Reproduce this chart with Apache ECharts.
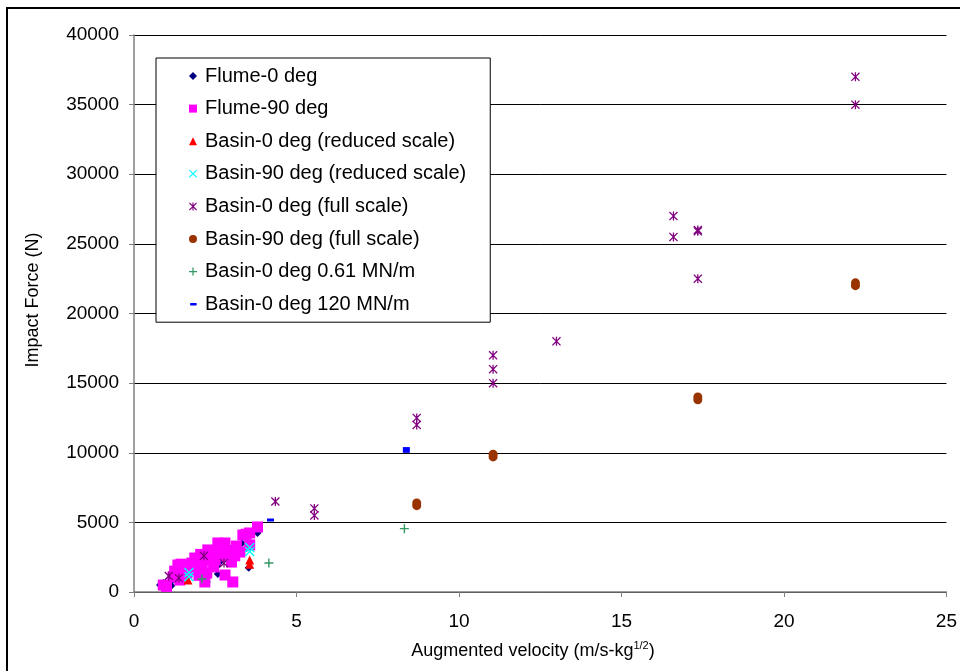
<!DOCTYPE html>
<html>
<head>
<meta charset="utf-8">
<script src="https://cdn.jsdelivr.net/npm/echarts@6/dist/echarts.min.js"></script>
<style>
html,body{margin:0;padding:0;background:#fff;}
#chart{width:960px;height:671px;}
</style>
</head>
<body>
<div id="chart"></div>
<script>
var seriesNames = [
  'Flume-0 deg',
  'Flume-90 deg',
  'Basin-0 deg (reduced scale)',
  'Basin-90 deg (reduced scale)',
  'Basin-0 deg (full scale)',
  'Basin-90 deg (full scale)',
  'Basin-0 deg 0.61 MN/m',
  'Basin-0 deg 120 MN/m'
];
var xTicks = [0, 5, 10, 15, 20, 25];
var yTicks = [0, 5000, 10000, 15000, 20000, 25000, 30000, 35000, 40000];

var flume0 = [[0.8,500],[0.9,650],[1.15,450],[1.15,750],[1.15,950],[1.4,1000],[1.97,1100],[2.18,2150],[2.24,720],
  [2.58,1300],[2.58,1900],[2.58,2500],[2.64,2150],[2.9,2500],[3.04,3230],[3.1,3300],[3.32,3500],[3.47,3160],
  [3.53,1750],[3.8,4240],[2.0,1500],[2.4,2600]];
var flume90 = [[0.9,500],[1.0,400],[1.2,1080],[1.32,1360],[1.35,1940],[1.41,860],[1.5,1700],[1.63,1360],[1.65,1900],
  [1.78,2080],[1.87,2440],[1.9,1700],[2.03,1580],[2.1,2000],[2.18,720],[2.24,1360],[2.27,3020],[2.33,2510],[2.43,2440],
  [2.5,2300],[2.58,3520],[2.64,2800],[2.7,2600],[2.8,3520],[2.8,1220],[3.0,2150],[3.04,720],[3.1,2600],[3.26,2870],
  [3.35,4090],[3.56,4240],[3.56,3380],[3.8,4670],[1.25,1500],[1.45,2000],[1.55,1300],[1.75,1600],[1.95,2200],
  [2.05,2700],[2.15,2300],[2.35,2900],[2.45,1800],[2.7,3200],[2.95,2900],[3.15,3300],[3.45,4150],[2.0,1200]];
var basin0Reduced = [[1.66,860],[3.56,2000],[3.56,2300]];
var basin90Reduced = [[1.69,1100],[1.69,1400],[3.56,2900],[3.56,3200]];
var basin0Full = [[1.07,1150],[1.38,1000],[2.15,2600],[2.77,2080],[4.35,6500],[5.55,6000],[5.55,5500],
  [8.7,12500],[8.7,12000],[11.05,17000],[11.05,16000],[11.05,15000],[13.0,18000],[16.6,27000],[16.6,25500],
  [17.35,26000],[17.35,25900],[17.35,22500],[22.2,37000],[22.2,35000]];
var basin90Full = [[8.7,6200],[8.7,6400],[11.05,9700],[11.05,9900],[17.35,13800],[17.35,14000],[22.2,22000],[22.2,22200]];
var basin0_061 = [[2.09,930],[4.15,2080],[8.32,4550]];
var basin0_120 = [[4.2,5170],[8.38,10100],[8.38,10300]];

var xPath = 'path://M1,0 L5,4 L9,0 L10,1 L6,5 L10,9 L9,10 L5,6 L1,10 L0,9 L4,5 L0,1 Z';
var starPath = 'path://M1,0 L5,4 L9,0 L10,1 L6,5 L10,9 L9,10 L5,6 L1,10 L0,9 L4,5 L0,1 Z M4.3,0 L5.7,0 L5.7,10 L4.3,10 Z';
var plusPath = 'path://M4.2,0 L5.8,0 L5.8,4.2 L10,4.2 L10,5.8 L5.8,5.8 L5.8,10 L4.2,10 L4.2,5.8 L0,5.8 L0,4.2 L4.2,4.2 Z';
var dashPath = 'path://M0,0 L0.01,0 L0.01,0.01 Z M1,3.5 L9,3.5 L9,6.5 L1,6.5 Z M0,10 L0.01,10 L0.01,9.99 Z';

var chart = echarts.init(document.getElementById('chart'));
function sc(name, data, symbol, size, color, z) {
  return {
    name: name, type: 'scatter', data: data, symbol: symbol, symbolSize: size, z: z,
    itemStyle: { color: color, opacity: 1 }, emphasis: { disabled: true }, animation: false
  };
}
var option = {
  animation: false,
  textStyle: { fontFamily: 'Liberation Sans', color: '#000' },
  grid: { left: 134, right: 12, top: 35, bottom: 79, containLabel: false },
  xAxis: {
    type: 'value', min: 0, max: 25, interval: 5,
    axisLine: { show: true, lineStyle: { color: '#808080', width: 1.5 } },
    axisTick: { show: true, inside: false, length: 5, lineStyle: { color: '#808080' } },
    axisLabel: { margin: 20, fontSize: 19, color: '#000', fontFamily: 'Liberation Sans' },
    splitLine: { show: false }
  },
  yAxis: {
    type: 'value', min: 0, max: 40000, interval: 5000,
    axisLine: { show: true, onZero: false, lineStyle: { color: '#808080', width: 1.5 } },
    axisTick: { show: true, inside: false, length: 5, lineStyle: { color: '#808080' } },
    axisLabel: { margin: 15, fontSize: 19, color: '#000', fontFamily: 'Liberation Sans', formatter: function (v) { return String(v); } },
    splitLine: { show: true, lineStyle: { color: '#000', width: 1 } }
  },
  legend: {
    orient: 'vertical', left: 156, top: 58,
    padding: [8, 24, 8, 33], itemGap: 12.6, itemWidth: 8, itemHeight: 8,
    backgroundColor: '#fff', borderColor: '#000', borderWidth: 1,
    textStyle: { fontSize: 20, color: '#000', fontFamily: 'Liberation Sans', padding: [0, 0, 0, 3] },
    selectedMode: false,
    data: [
      { name: seriesNames[0], icon: 'diamond' },
      { name: seriesNames[1], icon: 'rect' },
      { name: seriesNames[2], icon: 'triangle' },
      { name: seriesNames[3], icon: xPath },
      { name: seriesNames[4], icon: starPath },
      { name: seriesNames[5], icon: 'circle' },
      { name: seriesNames[6], icon: plusPath },
      { name: seriesNames[7], icon: dashPath }
    ]
  },
  graphic: [
    { type: 'rect', shape: { x: 7, y: 8, width: 1000, height: 800 }, style: { fill: 'none', stroke: '#000', lineWidth: 2 }, silent: true, z: 100 },
    { type: 'text', x: 33, y: 300, rotation: Math.PI / 2,
      style: { text: 'Impact Force (N)', fontSize: 18, fontFamily: 'Liberation Sans', fill: '#000', align: 'center', verticalAlign: 'middle' } },
    { type: 'text', x: 533, y: 651,
      style: { text: 'Augmented velocity (m/s-kg{sup|1/2})', fontSize: 18, fontFamily: 'Liberation Sans', fill: '#000', align: 'center', verticalAlign: 'middle',
        rich: { sup: { fontSize: 11, verticalAlign: 'top', padding: [0, 0, 10, 0], fontFamily: 'Liberation Sans' } } } }
  ],
  series: [
    sc(seriesNames[0], flume0, 'diamond', 8, '#000080', 2),
    sc(seriesNames[1], flume90, 'rect', 11, '#FF00FF', 3),
    sc(seriesNames[2], basin0Reduced, 'triangle', 9, '#FF0000', 4),
    sc(seriesNames[3], basin90Reduced, xPath, 10, '#00FFFF', 5),
    sc(seriesNames[4], basin0Full, starPath, 9, '#800080', 6),
    sc(seriesNames[5], basin90Full, 'circle', 9, '#993300', 7),
    sc(seriesNames[6], basin0_061, plusPath, 9, '#339966', 8),
    sc(seriesNames[7], basin0_120, 'rect', [7, 3], '#0000FF', 9)
  ]
};
chart.setOption(option);
</script>
</body>
</html>
